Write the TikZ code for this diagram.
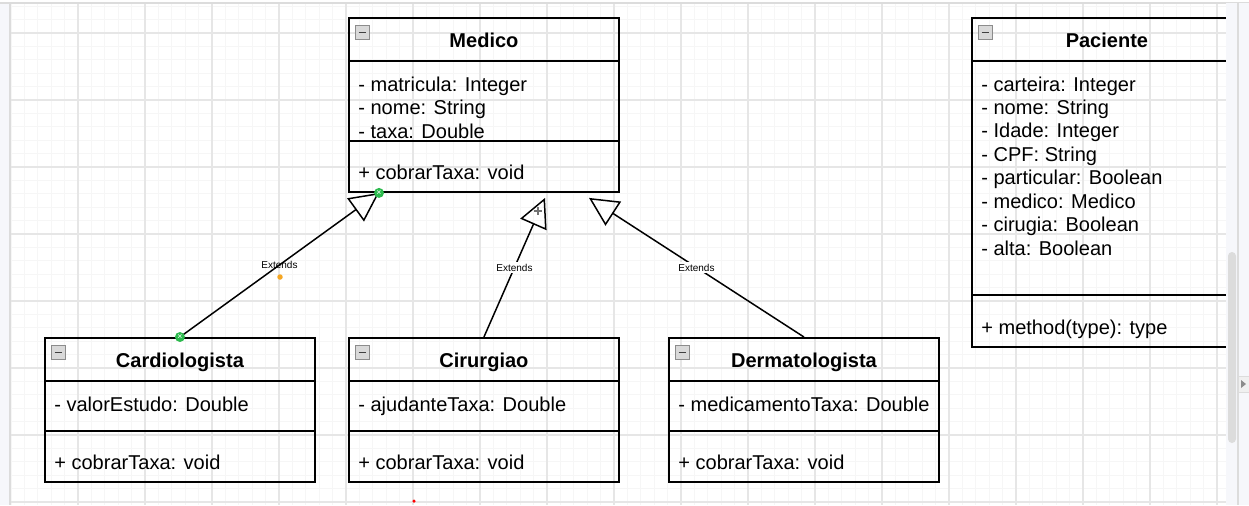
\documentclass[tikz,border=0pt]{standalone}
\usepackage{fontspec}
\setmainfont{Liberation Sans}
\usetikzlibrary{arrows.meta,positioning,calc}

\definecolor{gridmaj}{HTML}{E6E6E6}
\definecolor{gridmin}{HTML}{F6F6F6}
\definecolor{panelc}{HTML}{F6F7FB}
\definecolor{borderc}{HTML}{DCDCDC}
\definecolor{handlec}{HTML}{2DBA4E}
\definecolor{dotc}{HTML}{F5A623}

\tikzset{
  classbox/.style={draw, line width=1.1pt, anchor=north west, minimum width=5.4cm, inner sep=0pt},
  classname/.style={anchor=base, font=\fontsize{11.4}{13}\selectfont\bfseries},
  member/.style={anchor=base west, inner sep=0pt, font=\fontsize{11.4}{13}\selectfont},
  minusbox/.style={draw=black!45, fill=black!15, line width=0.5pt, anchor=north west,
    minimum size=0.28cm, inner sep=0pt},
  sepline/.style={line width=1.1pt},
  extends/.style={line width=0.85pt, -{Triangle[open, length=0.58cm, width=0.57cm]}},
  extlabel/.style={font=\fontsize{5.7}{6}\selectfont, inner sep=1pt},
  handle/.style={circle, fill=handlec, inner sep=0pt, minimum size=0.2cm, text=white,
    font=\fontsize{5}{5}\selectfont},
}

\begin{document}
\begin{tikzpicture}[x=0.02cm, y=-0.02cm]
  \useasboundingbox[fill=white] (0,0) rectangle (1249,505);

  % canvas grid
  \foreach \gx in {11,24.4,...,1226} \draw[gridmin, line width=0.4pt] (\gx,3) -- (\gx,505);
  \foreach \gy in {6.2,19.6,...,505} \draw[gridmin, line width=0.4pt] (10,\gy) -- (1226,\gy);
  \foreach \gx in {78,145,...,1226} \draw[gridmaj, line width=0.6pt] (\gx,3) -- (\gx,505);
  \foreach \gy in {33,100,...,505} \draw[gridmaj, line width=0.6pt] (10,\gy) -- (1226,\gy);
  \fill[panelc] (0,3) rectangle (10,505);
  \draw[borderc, line width=0.8pt] (10,3) -- (10,505);
  \draw[borderc, line width=0.8pt] (0,3) -- (1249,3);

  % Medico
  \node[classbox, minimum height=3.48cm] (medico) at (348,17) {};
  \node[classname] (medicoT) at ($(medico.north)+(0,30)$) {Medico};
  \node[minusbox] (medicoM) at ($(medico.north west)+(7,8)$) {\textcolor{black!75}{\rule{0.15cm}{0.9pt}}};
  \draw[sepline] ($(medico.north west)+(0,44)$) -- ($(medico.north east)+(0,44)$);
  \draw[sepline] ($(medico.north west)+(0,124)$) -- ($(medico.north east)+(0,124)$);
  \foreach \t [count=\i from 0] in {- matricula: Integer, - nome: String, - taxa: Double}
    \node[member] (medicoA\i) at ($(medico.north west)+(10,74+23.5*\i)$) {\t};
  \node[member] (medicoO) at ($(medico.north west)+(10,162)$) {+ cobrarTaxa: void};

  % subclasses
  \foreach \n/\x/\t/\a in {cardio/44/Cardiologista/valorEstudo,
                           cirurg/348/Cirurgiao/ajudanteTaxa,
                           dermato/668/Dermatologista/medicamentoTaxa} {
    \node[classbox, minimum height=2.88cm] (\n) at (\x,337) {};
    \node[classname] (\n T) at ($(\n.north)+(0,30)$) {\t};
    \node[minusbox] (\n M) at ($(\n.north west)+(7,8)$) {\textcolor{black!75}{\rule{0.15cm}{0.9pt}}};
    \draw[sepline] ($(\n.north west)+(0,44)$) -- ($(\n.north east)+(0,44)$);
    \draw[sepline] ($(\n.north west)+(0,94)$) -- ($(\n.north east)+(0,94)$);
    \node[member] (\n A) at ($(\n.north west)+(10,74)$) {- \a: Double};
    \node[member] (\n O) at ($(\n.north west)+(10,132)$) {+ cobrarTaxa: void};
  }

  % Paciente
  \node[classbox, minimum height=6.58cm] (paciente) at (971,17) {};
  \node[classname] (pacienteT) at ($(paciente.north)+(0,30)$) {Paciente};
  \node[minusbox] (pacienteM) at ($(paciente.north west)+(7,8)$) {\textcolor{black!75}{\rule{0.15cm}{0.9pt}}};
  \draw[sepline] ($(paciente.north west)+(0,44)$) -- ($(paciente.north east)+(0,44)$);
  \draw[sepline] ($(paciente.north west)+(0,278)$) -- ($(paciente.north east)+(0,278)$);
  \foreach \t [count=\i from 0] in {- carteira: Integer, - nome: String, - Idade: Integer,
      - CPF: String, - particular: Boolean, - medico: Medico, - cirugia: Boolean, - alta: Boolean}
    \node[member] (pacienteA\i) at ($(paciente.north west)+(10,74+23.45*\i)$) {\t};
  \node[member] (pacienteO) at ($(paciente.north west)+(10,317)$) {+ method(type): type};

  % generalisations
  \coordinate (tipA) at ($(medico.south west)+(31,0)$);
  \coordinate (tipB) at ($(medico.south west)+(197,5)$);
  \coordinate (tipC) at ($(medico.south west)+(241,5)$);
  \draw[extends] (cardio.north) -- node[extlabel] (extA) {Extends} (tipA);
  \draw[extends] (cirurg.north) -- node[extlabel, fill=white] (extB) {Extends} (tipB);
  \draw[extends] (dermato.north) -- node[extlabel, fill=white] (extC) {Extends} (tipC);
  \draw[black!55, line width=0.6pt] (534,211) -- (542,211) (538,207) -- (538,215);
  \node[handle] (hA) at (tipA) {×};
  \node[handle] (hB) at (cardio.north) {×};
  \fill[dotc] (280,277) circle (0.055cm);
  \fill[red] (414,501) circle (0.035cm);

  % right side panel
  \fill[panelc] (1226,3) rectangle (1249,505);
  \draw[borderc, line width=0.6pt] (1238,3) -- (1238,505);
  \fill[borderc, rounded corners=0.08cm] (1228,252) rectangle (1236,443);
  \filldraw[fill=black!6, draw=borderc, line width=0.5pt] (1238,376) rectangle (1249,392);
  \fill[black!45] (1241,380) -- (1246,384) -- (1241,388) -- cycle;
\end{tikzpicture}
\end{document}
